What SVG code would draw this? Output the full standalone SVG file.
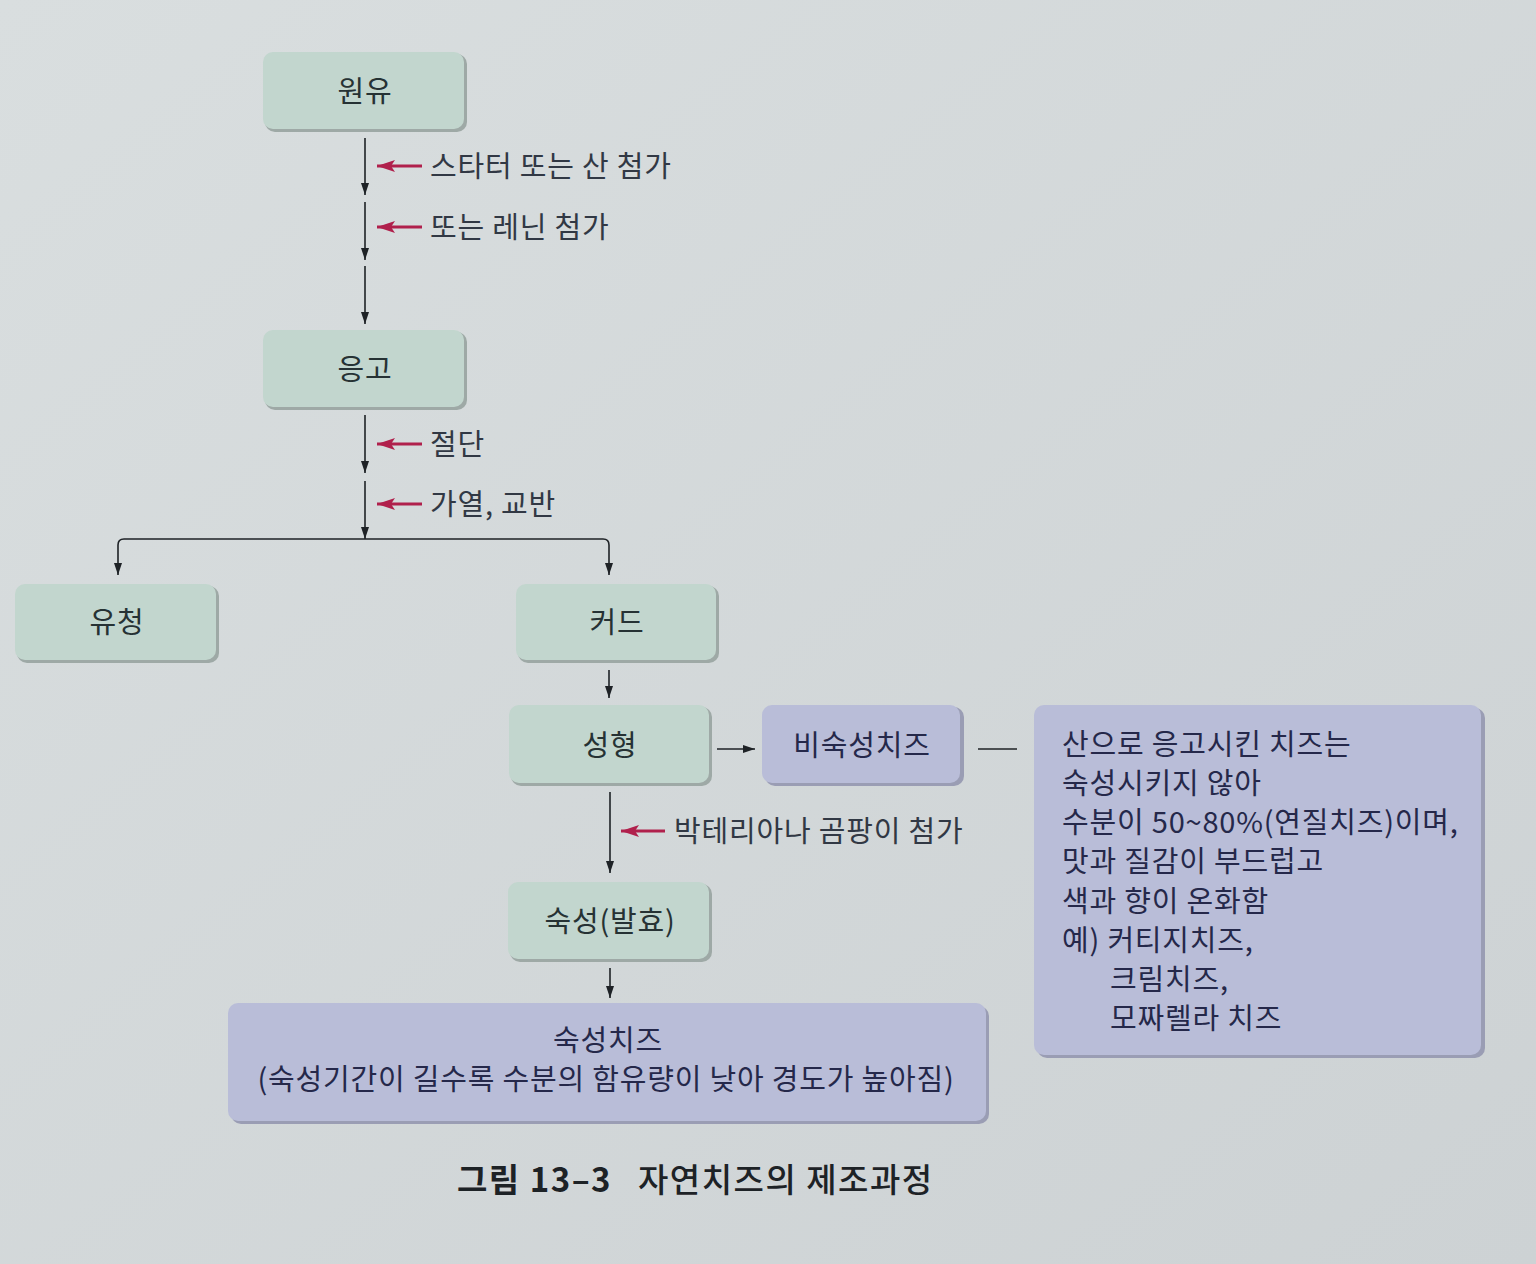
<svg xmlns="http://www.w3.org/2000/svg" width="1536" height="1264" viewBox="0 0 1536 1264">
  <defs>
    <linearGradient id="bg" x1="0" y1="0" x2="1" y2="1">
      <stop offset="0" stop-color="#d9dedf"/>
      <stop offset="1" stop-color="#cdd2d4"/>
    </linearGradient>
    <marker id="ah" viewBox="0 0 12 8" refX="12" refY="4" markerWidth="12" markerHeight="8" orient="auto" markerUnits="userSpaceOnUse">
      <path d="M0,0 L12,4 L0,8 z" fill="#1e2226"/>
    </marker>
    <marker id="rh" viewBox="0 0 18 12" refX="18" refY="6" markerWidth="18" markerHeight="12" orient="auto" markerUnits="userSpaceOnUse">
      <path d="M0,0 L18,6 L0,12 L4,6 z" fill="#b0204c"/>
    </marker>
    <style>
      .g { fill: #c2d6ce; }
      .p { fill: #b9bdd8; }
      .sh { fill: #9ea9a6; }
      .shp { fill: #9a9db4; }
      .t { font-family: "Noto Sans CJK KR", "Noto Sans", sans-serif; font-size: 29px; letter-spacing: 0.8px; }
      .bt { fill: #263234; text-anchor: middle; }
      .pt { fill: #25284a; }
      .lb { fill: #313844; }
      .ln { fill: none; stroke: #1e2226; stroke-width: 1.6; }
      .rl { fill: none; stroke: #b0204c; stroke-width: 3; }
      .cap { font-family: "Noto Sans CJK KR", "Noto Sans", sans-serif; font-size: 33px; letter-spacing: 1.5px; fill: #1d2226; }
    </style>
  </defs>

  <rect x="0" y="0" width="1536" height="1264" fill="url(#bg)"/>

  <g id="connectors">
    <path class="ln" d="M365,138 V195" marker-end="url(#ah)"/>
    <path class="ln" d="M365,202 V260" marker-end="url(#ah)"/>
    <path class="ln" d="M365,266 V324" marker-end="url(#ah)"/>
    <path class="ln" d="M365,415 V473" marker-end="url(#ah)"/>
    <path class="ln" d="M365,481 V539" marker-end="url(#ah)"/>
    <path class="ln" d="M365,539 H124 Q118,539 118,545 V575" marker-end="url(#ah)"/>
    <path class="ln" d="M365,539 H603 Q609,539 609,545 V575" marker-end="url(#ah)"/>
    <path class="ln" d="M609,670 V698" marker-end="url(#ah)"/>
    <path class="ln" d="M717,749 H755" marker-end="url(#ah)"/>
    <path class="ln" d="M978,749 H1017"/>
    <path class="ln" d="M610,792 V873" marker-end="url(#ah)"/>
    <path class="ln" d="M610,968 V998" marker-end="url(#ah)"/>
    <path class="rl" d="M422,166 H377" marker-end="url(#rh)"/>
    <path class="rl" d="M422,227 H377" marker-end="url(#rh)"/>
    <path class="rl" d="M422,444 H377" marker-end="url(#rh)"/>
    <path class="rl" d="M422,504 H377" marker-end="url(#rh)"/>
    <path class="rl" d="M665,831 H621" marker-end="url(#rh)"/>
  </g>

  <g id="labels">
    <text class="t lb" x="430" y="177">스타터 또는 산 첨가</text>
    <text class="t lb" x="430" y="238">또는 레닌 첨가</text>
    <text class="t lb" x="430" y="455">절단</text>
    <text class="t lb" x="430" y="515">가열, 교반</text>
    <text class="t lb" x="674" y="842">박테리아나 곰팡이 첨가</text>
  </g>

  <g id="n-raw">
    <rect class="sh" x="265" y="54" width="202" height="78" rx="10"/>
    <rect class="g" x="263" y="52" width="201" height="77" rx="10"/>
    <text class="t bt" x="365" y="102">원유</text>
  </g>
  <g id="n-coag">
    <rect class="sh" x="265" y="332" width="202" height="78" rx="10"/>
    <rect class="g" x="263" y="330" width="201" height="77" rx="10"/>
    <text class="t bt" x="365" y="380">응고</text>
  </g>
  <g id="n-whey">
    <rect class="sh" x="17" y="586" width="202" height="77" rx="10"/>
    <rect class="g" x="15" y="584" width="201" height="76" rx="10"/>
    <text class="t bt" x="117" y="633">유청</text>
  </g>
  <g id="n-curd">
    <rect class="sh" x="518" y="586" width="201" height="77" rx="10"/>
    <rect class="g" x="516" y="584" width="200" height="76" rx="10"/>
    <text class="t bt" x="617" y="633">커드</text>
  </g>
  <g id="n-mold">
    <rect class="sh" x="511" y="707" width="201" height="79" rx="10"/>
    <rect class="g" x="509" y="705" width="200" height="78" rx="10"/>
    <text class="t bt" x="610" y="756">성형</text>
  </g>
  <g id="n-unripened">
    <rect class="shp" x="765" y="707" width="199" height="79" rx="10"/>
    <rect class="p" x="762" y="705" width="198" height="78" rx="10"/>
    <text class="t pt" x="862" y="756" text-anchor="middle">비숙성치즈</text>
  </g>
  <g id="n-note">
    <rect class="shp" x="1037" y="708" width="448" height="350" rx="10"/>
    <rect class="p" x="1034" y="705" width="447" height="350" rx="10"/>
    <text class="t pt" x="1062" y="755">산으로 응고시킨 치즈는</text>
    <text class="t pt" x="1062" y="794">숙성시키지 않아</text>
    <text class="t pt" x="1062" y="833">수분이 50~80%(연질치즈)이며,</text>
    <text class="t pt" x="1062" y="872">맛과 질감이 부드럽고</text>
    <text class="t pt" x="1062" y="912">색과 향이 온화함</text>
    <text class="t pt" x="1062" y="951">예) 커티지치즈,</text>
    <text class="t pt" x="1110" y="990">크림치즈,</text>
    <text class="t pt" x="1110" y="1029">모짜렐라 치즈</text>
  </g>
  <g id="n-ripening">
    <rect class="sh" x="510" y="884" width="202" height="78" rx="10"/>
    <rect class="g" x="508" y="882" width="201" height="77" rx="10"/>
    <text class="t bt" x="610" y="932">숙성(발효)</text>
  </g>
  <g id="n-ripened">
    <rect class="shp" x="231" y="1006" width="758" height="118" rx="10"/>
    <rect class="p" x="228" y="1003" width="758" height="118" rx="10"/>
    <text class="t pt" x="608" y="1051" text-anchor="middle">숙성치즈</text>
    <text class="t pt" x="606" y="1090" text-anchor="middle">(숙성기간이 길수록 수분의 함유량이 낮아 경도가 높아짐)</text>
  </g>

  <g id="caption">
    <text class="cap" x="457" y="1192" font-weight="700">그림 13–3</text>
    <text class="cap" x="638" y="1192" font-weight="500">자연치즈의 제조과정</text>
  </g>
</svg>
